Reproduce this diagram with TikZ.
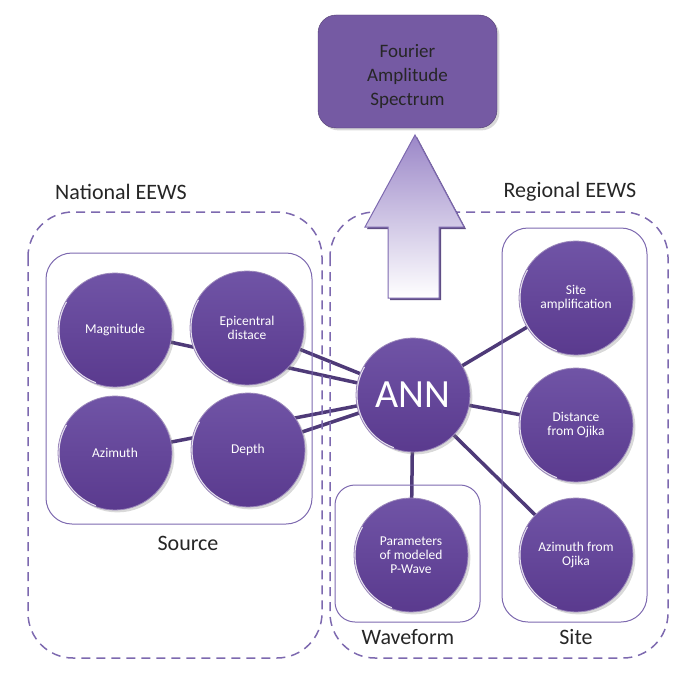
\documentclass[tikz,border=0pt]{standalone}
\usepackage{fontspec}
\setmainfont{Carlito}
\usetikzlibrary{shadows,backgrounds}

\definecolor{ballfill}{RGB}{90,58,142}
\definecolor{balltop}{RGB}{112,84,166}
\definecolor{linkcol}{RGB}{78,58,120}
\definecolor{framecol}{RGB}{125,105,175}
\definecolor{topfill}{RGB}{117,90,163}
\definecolor{arrowtop}{RGB}{155,135,200}

\begin{document}
\begin{tikzpicture}[x=1pt, y=-1pt,
    ball/.style={circle, minimum size=114pt, inner sep=0pt, top color=balltop, bottom color=ballfill,
        draw=ballfill!60!white, line width=0.8pt, text=white, align=center,
        font=\fontsize{13.5}{14}\selectfont, drop shadow={opacity=0.3},
        path picture={\draw[white, line width=3pt, opacity=0.85]
            (path picture bounding box.center) ++(150:57pt) arc[start angle=150, end angle=250, radius=57pt];}},
    link/.style={linkcol, line width=3.5pt},
    group/.style={framecol, line width=1pt, rounded corners=26pt},
    realm/.style={framecol, line width=1.5pt, dash pattern=on 9pt off 6pt, rounded corners=45pt},
    caption/.style={font=\fontsize{22}{24}\selectfont, text=black!85}]
    \useasboundingbox (0,0) rectangle (682,674);

    % dashed frames and groups
    \draw[realm] (28,212) rectangle (322,658);
    \draw[realm] (330,212) rectangle (668,658);
    \draw[group] (46,253) rectangle (312,524);
    \draw[group, rounded corners=20pt] (335,485) rectangle (480,622);
    \draw[group] (502,228) rectangle (647,622);

    \node[caption] (natl) at (121,192) {National EEWS};
    \node[caption] (regl) at (570,192) {Regional EEWS};
    \node[caption] (srcl) at (188,543) {Source};
    \node[caption] (wavl) at (408,637) {Waveform};
    \node[caption] (sitel) at (576,637) {Site};

    % output box and arrow
    \node[fill=topfill, draw=topfill!70!black, rounded corners=18pt, minimum width=179pt,
        minimum height=113pt, drop shadow={opacity=0.3},
        label={[align=center, text=black!85, font=\fontsize{19}{24}\selectfont, yshift=-5pt]center:Fourier\\Amplitude\\Spectrum}]
        (fas) at (407.5,71.5) {};
    \draw[framecol, line width=1pt, top color=arrowtop, bottom color=white,
        drop shadow={fill=linkcol, opacity=0.9, shadow xshift=2pt, shadow yshift=-2pt}]
        (415,135) -- (464,227) -- (439,227) -- (439,298) -- (388,298) -- (388,227) -- (365,227) -- cycle;

    % inputs
    \node[ball] (mag) at (115,330) {Magnitude};
    \node[ball] (epi) at (247,328) {Epicentral\\distace};
    \node[ball] (azi) at (115,453) {Azimuth};
    \node[ball] (dep) at (248,450) {Depth};
    \node[ball] (site) at (576,298) {Site\\amplification};
    \node[ball] (dist) at (576,425) {Distance\\from Ojika};
    \node[ball] (aziO) at (576,555) {Azimuth from\\Ojika};
    \node[ball] (pwave) at (411,555) {Parameters\\of modeled\\P-Wave};
    \node[ball, font=\fontsize{40}{40}\selectfont] (ann) at (413,395) {ANN};

    % links
    \begin{scope}[on background layer]
        \foreach \n in {mag,epi,azi,dep,site,dist,aziO,pwave}
            \draw[link] (\n.center) -- (ann.center);
    \end{scope}
\end{tikzpicture}
\end{document}
